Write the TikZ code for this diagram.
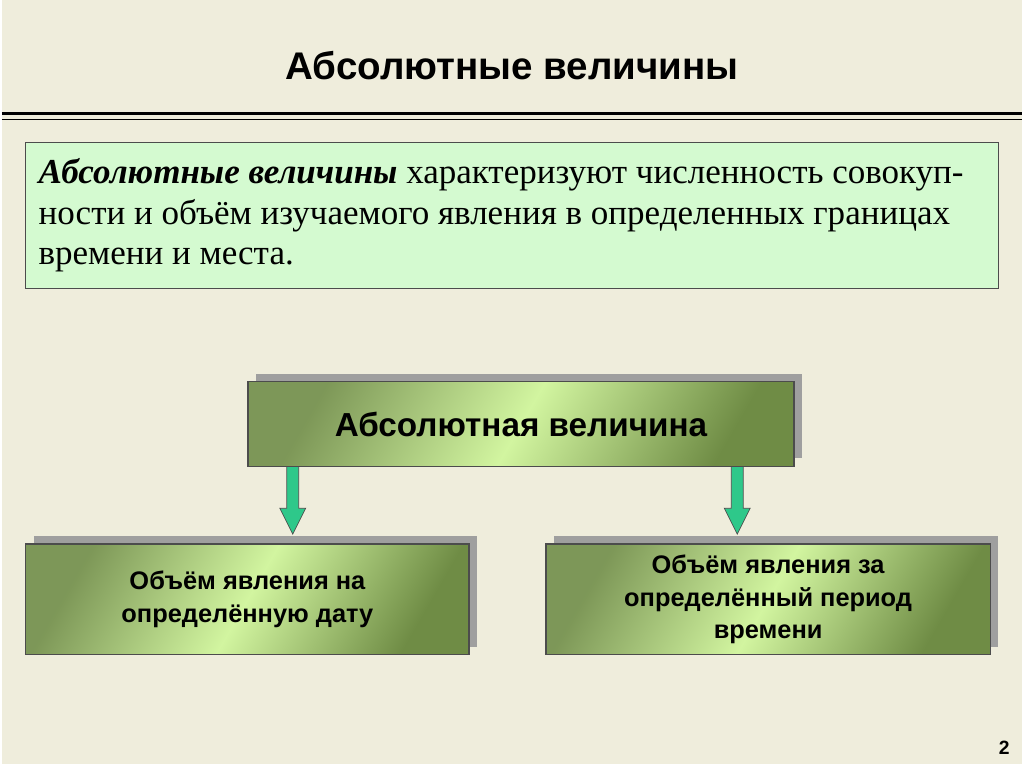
\documentclass[tikz,border=0pt]{standalone}
\usepackage{fontspec}
\setmainfont{Liberation Serif}
\newfontfamily\headfont{Liberation Sans}
\usetikzlibrary{positioning}
\definecolor{paper}{HTML}{EFEDDC}
\definecolor{defgreen}{HTML}{D4FAD0}
\definecolor{darkolive}{HTML}{6F8C45}
\definecolor{lightolive}{HTML}{D2F5A0}
\definecolor{arrowteal}{HTML}{2EC88A}
\tikzset{
  shadebox/.style={draw=black!70, thick, left color=darkolive!90, right color=darkolive, middle color=lightolive, shading angle=60, align=center, font=\headfont\bfseries},
  backbox/.style={fill=gray!75, draw=none},
  downarrow/.style={draw=black!70, thin, fill=arrowteal}
}
\begin{document}
\begin{tikzpicture}[x=0.02cm, y=-0.02cm]
    \fill[paper] (0,0) rectangle (1024,767);
    \node[font=\headfont\bfseries\fontsize{22}{26}\selectfont] (title) at (512,66) {Абсолютные величины};
    \draw[line width=2pt] (0,114) -- (1024,114);
    \draw[line width=0.6pt] (0,120) -- (1024,120);

    % definition
    \node[draw=black!70, fill=defgreen, minimum width=976*0.02cm, minimum height=146*0.02cm,
          text width=950*0.02cm, align=flush left, font=\fontsize{20}{23.2}\selectfont] (defn) at (512,216)
          {\textbf{\textit{Абсолютные величины}} характеризуют численность совокуп-\\ности и объём изучаемого явления в определенных границах\\времени и места.};

    % boxes
    \fill[backbox] (255,375) rectangle (803,460);
    \node[shadebox, minimum width=548*0.02cm, minimum height=85*0.02cm, font=\headfont\bfseries\fontsize{19}{22}\selectfont] (main) at (521,425.5) {Абсолютная величина};
    \fill[backbox] (32,538) rectangle (477,649);
    \node[shadebox, minimum width=445*0.02cm, minimum height=111*0.02cm, font=\headfont\bfseries\fontsize{14.5}{18.5}\selectfont] (date) at (246.5,601.5) {Объём явления на\\определённую дату};
    \fill[backbox] (554,538) rectangle (1000,649);
    \node[shadebox, minimum width=446*0.02cm, minimum height=111*0.02cm, font=\headfont\bfseries\fontsize{14.5}{18.5}\selectfont] (period) at (769,601.5) {Объём явления за\\определённый период\\времени};

    % arrows
    \coordinate (la) at (292,468);
    \coordinate (ra) at (738,468);
    \draw[downarrow] (la) ++(-6,0) -- ++(0,42) -- ++(-7,0) -- (292,536) -- (305,510) -- ++(-7,0) -- ++(0,-42) -- cycle;
    \draw[downarrow] (ra) ++(-6,0) -- ++(0,42) -- ++(-7,0) -- (738,536) -- (751,510) -- ++(-7,0) -- ++(0,-42) -- cycle;

    \node[font=\headfont\bfseries\fontsize{11}{13}\selectfont] (page) at (1006,750) {2};
\end{tikzpicture}
\end{document}
